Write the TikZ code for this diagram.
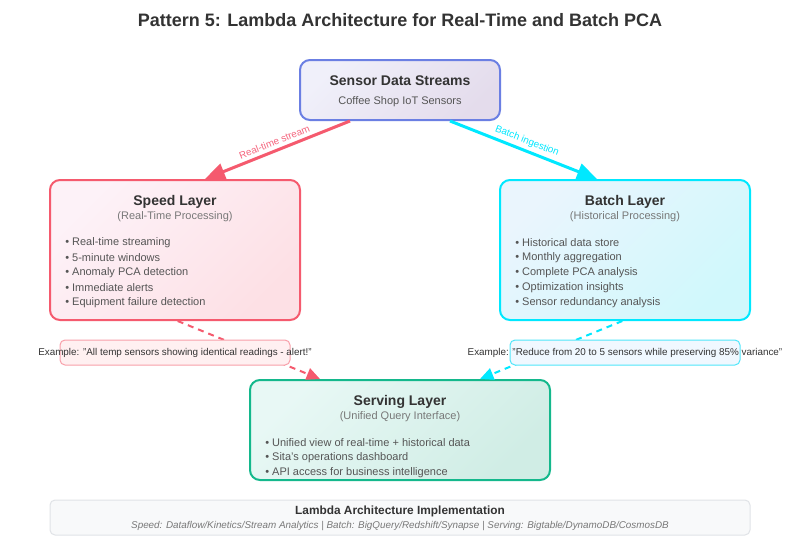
\documentclass[tikz,border=0pt]{standalone}
\usepackage{fontspec}
\setmainfont{Liberation Sans}
\usetikzlibrary{arrows.meta}
\definecolor{sensorB}{RGB}{107,127,227}
\definecolor{sensorT}{RGB}{240,240,250}
\definecolor{sensorBt}{RGB}{228,220,236}
\definecolor{speedB}{RGB}{245,90,110}
\definecolor{speedT}{RGB}{253,242,248}
\definecolor{speedBt}{RGB}{253,224,229}
\definecolor{batchB}{RGB}{0,232,255}
\definecolor{batchT}{RGB}{234,245,253}
\definecolor{batchBt}{RGB}{208,248,252}
\definecolor{servB}{RGB}{20,184,140}
\definecolor{servT}{RGB}{232,248,245}
\definecolor{servBt}{RGB}{208,237,229}
\definecolor{txt}{RGB}{51,51,51}
\definecolor{subc}{RGB}{120,120,120}
\definecolor{bulc}{RGB}{85,85,85}
\definecolor{redlab}{RGB}{245,100,125}
\definecolor{exRedF}{RGB}{255,240,241}
\definecolor{exRedB}{RGB}{248,160,170}
\definecolor{exCyF}{RGB}{240,248,255}
\definecolor{exCyB}{RGB}{80,230,250}
\definecolor{footF}{RGB}{248,249,250}
\definecolor{footB}{RGB}{224,227,231}
\tikzset{
  layerbox/.style={draw=#1B, line width=1.5pt, rounded corners=7.5pt, inner sep=0pt,
    top color=#1T, bottom color=#1Bt, shading angle=45},
  boxtitle/.style={font=\fontsize{10.5}{12}\selectfont\bfseries, text=txt, inner sep=0pt},
  boxsub/.style={font=\fontsize{8.25}{10}\selectfont, text=subc, inner sep=0pt},
  bullet/.style={font=\fontsize{8.25}{10}\selectfont, text=bulc, inner sep=0pt, anchor=west},
  flowarrow/.style={line width=2.25pt, draw=#1, -{Triangle[length=15pt,width=12.5pt,fill=#1]}},
  feedarrow/.style={line width=1.5pt, draw=#1, dash pattern=on 4.5pt off 3.75pt,
    -{Triangle[length=10pt,width=9pt,fill=#1]}},
  arrowlab/.style={font=\fontsize{7.4}{8}\selectfont, text=#1, inner sep=2.5pt},
  exbox/.style={draw=#1B, fill=#1F, line width=0.75pt, rounded corners=3.75pt,
    minimum width=172.5pt, minimum height=18.75pt, inner sep=0pt},
  extext/.style={font=\fontsize{7.4}{9}\selectfont, text=txt, inner sep=0pt}
}
\begin{document}
\begin{tikzpicture}[x=0.75pt,y=-0.75pt]
\useasboundingbox (0,0) rectangle (800,550);
\fill[white] (0,0) rectangle (800,550);
% title
\node[font=\fontsize{13.5}{16}\selectfont\bfseries, text=txt, inner sep=0pt] (title) at (400,20) {Pattern 5: Lambda Architecture for Real-Time and Batch PCA};
% boxes
\node[layerbox=sensor, minimum width=150pt, minimum height=45pt] (sensor) at (400,90) {};
\node[layerbox=speed, minimum width=187.5pt, minimum height=105pt] (speed) at (175,250) {};
\node[layerbox=batch, minimum width=187.5pt, minimum height=105pt] (batch) at (625,250) {};
\node[layerbox=serv, minimum width=225pt, minimum height=75pt] (serving) at (400,430) {};
% main arrows
\draw[flowarrow=speedB] ([xshift=-37.5pt]sensor.south) -- ([xshift=22.5pt]speed.north)
  node[midway, sloped, above, arrowlab=redlab] (lrt) {Real-time stream};
\draw[flowarrow=batchB] ([xshift=37.5pt]sensor.south) -- ([xshift=-21pt]batch.north)
  node[midway, sloped, above, arrowlab=batchB] (lbi) {Batch ingestion};
% feed arrows
\draw[feedarrow=speedB] ([xshift=2pt]speed.south) -- ([xshift=-60pt]serving.north);
\draw[feedarrow=batchB] ([xshift=-2pt]batch.south) -- ([xshift=60pt]serving.north);
% example boxes
\node[exbox=exRed] (exr) at (175,352.5) {};
\node[exbox=exCy] (exc) at (625,352.5) {};
\node[extext] (exrt) at (175,353) {Example: "All temp sensors showing identical readings - alert!"};
\node[extext] (exct) at (625,353) {Example: "Reduce from 20 to 5 sensors while preserving 85\% variance"};
% sensor texts
\node[boxtitle] (st) at (400,81) {Sensor Data Streams};
\node[boxsub, text=bulc] (ss) at (400,102) {Coffee Shop IoT Sensors};
% speed texts
\node[boxtitle] (spt) at (175,201.5) {Speed Layer};
\node[boxsub] (sps) at (175,217) {(Real-Time Processing)};
\foreach \t [count=\i] in {Real-time streaming, 5-minute windows, Anomaly PCA detection, Immediate alerts, Equipment failure detection}
  \node[bullet] (spb\i) at (65,227.5+15*\i) {• \t};
% batch texts
\node[boxtitle] (bt) at (625,201.5) {Batch Layer};
\node[boxsub] (bs) at (625,217) {(Historical Processing)};
\foreach \t [count=\i] in {Historical data store, Monthly aggregation, Complete PCA analysis, Optimization insights, Sensor redundancy analysis}
  \node[bullet] (bb\i) at (515,227.5+15*\i) {• \t};
% serving texts
\node[boxtitle] (svt) at (400,401.5) {Serving Layer};
\node[boxsub] (svs) at (400,417) {(Unified Query Interface)};
\foreach \t [count=\i] in {Unified view of real-time + historical data, Sita's operations dashboard, API access for business intelligence}
  \node[bullet] (svb\i) at (265,427.5+15*\i) {• \t};
% footer
\node[draw=footB, fill=footF, line width=0.75pt, rounded corners=3.75pt, minimum width=525pt, minimum height=26.25pt, inner sep=0pt] (foot) at (400,517.5) {};
\node[font=\fontsize{8.9}{10}\selectfont\bfseries, text=txt, inner sep=0pt] (ft) at (400,511.5) {Lambda Architecture Implementation};
\node[font=\fontsize{7.4}{8}\selectfont\itshape, text=subc, inner sep=0pt] (fs) at (400,526.5) {Speed: Dataflow/Kinetics/Stream Analytics | Batch: BigQuery/Redshift/Synapse | Serving: Bigtable/DynamoDB/CosmosDB};
\end{tikzpicture}
\end{document}
